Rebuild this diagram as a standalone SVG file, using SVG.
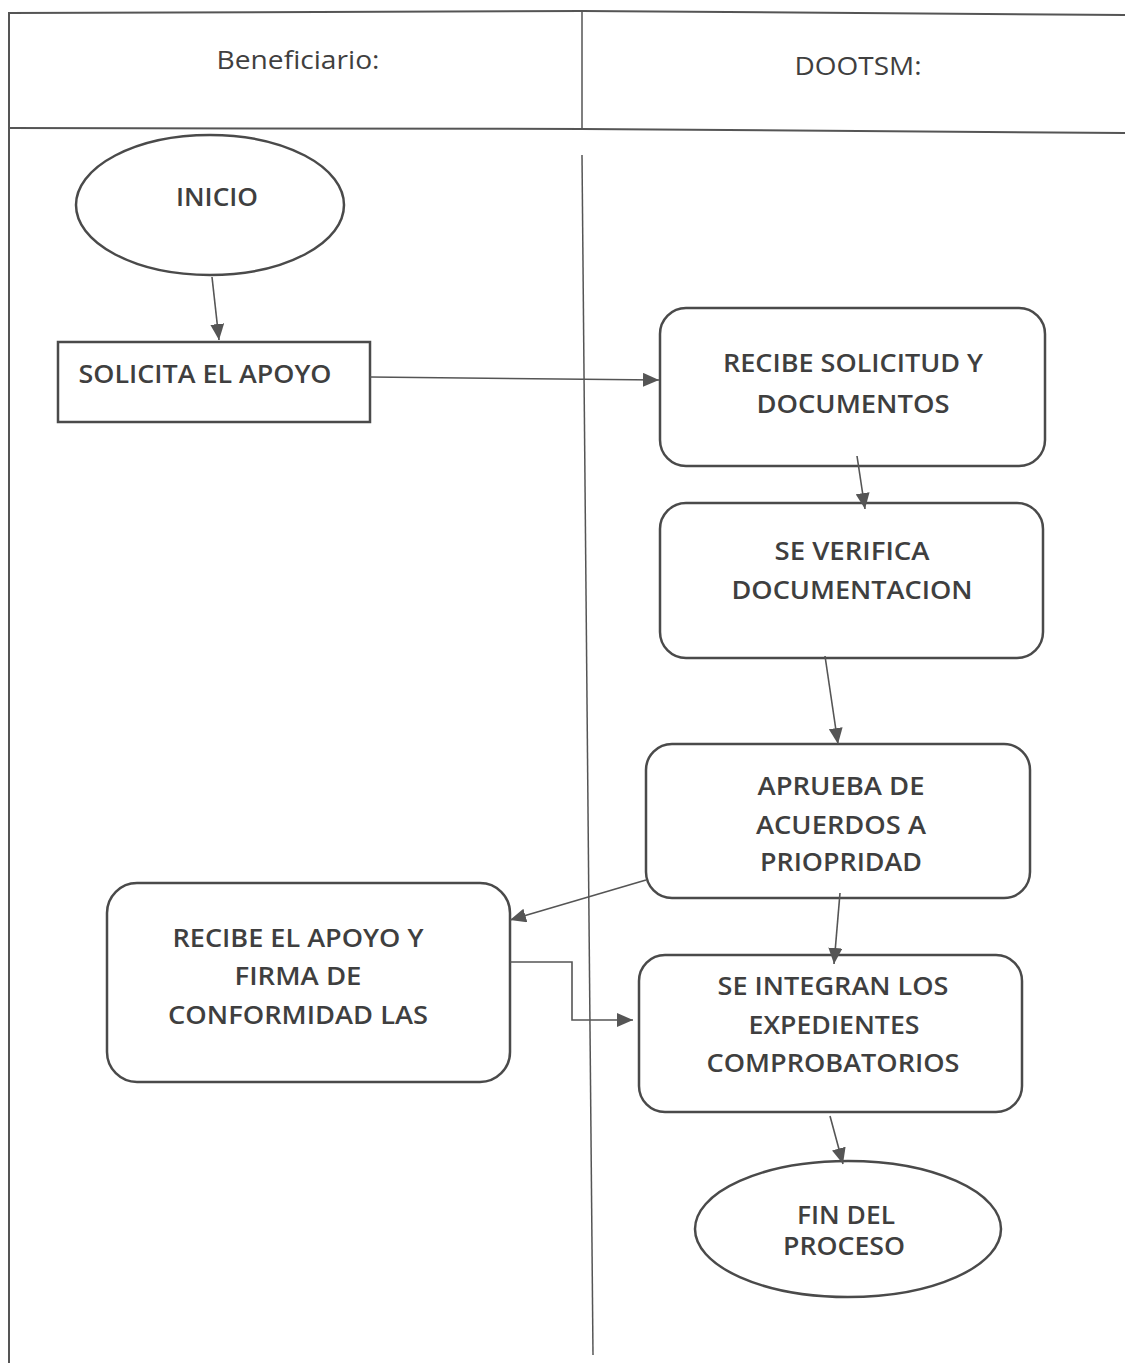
<svg xmlns="http://www.w3.org/2000/svg" width="1125" height="1363" viewBox="0 0 1125 1363">
<style>
.frame{fill:none;stroke:#555;stroke-width:2}
.thin{fill:none;stroke:#555;stroke-width:1.5}
.shape{fill:#fff;stroke:#4a4a4a;stroke-width:2.5}
.lbl{font-family:"Open Sans","Liberation Sans",sans-serif;font-weight:600;font-size:25px;fill:#3f3f3f;text-anchor:middle}
.hdr{font-family:"Open Sans","Liberation Sans",sans-serif;font-weight:500;font-size:26px;fill:#3f3f3f;text-anchor:middle}
.conn{fill:none;stroke:#555;stroke-width:1.6}
</style>
<defs>
<marker id="ah" markerUnits="userSpaceOnUse" markerWidth="18" markerHeight="14" refX="16" refY="7" orient="auto">
<path d="M0,0 L16,7 L0,14 Z" fill="#555"/>
</marker>
</defs>
<rect width="1125" height="1363" fill="#fff"/>
<g id="lanes">
<path class="frame" d="M9,1363 L9,13 L582,11 L1125,15"/>
<path class="frame" d="M9,128 L582,129 L1125,133"/>
<path class="thin" d="M582,11 L582,129"/>
<path class="thin" d="M582,155 L593,1355"/>
<text class="hdr" x="298" y="69" textLength="163" lengthAdjust="spacingAndGlyphs">Beneficiario:</text>
<text class="hdr" x="858" y="75" textLength="127" lengthAdjust="spacingAndGlyphs">DOOTSM:</text>
</g>
<g id="inicio">
<ellipse class="shape" cx="210" cy="205" rx="134" ry="70"/>
<text class="lbl" x="217" y="206" textLength="82" lengthAdjust="spacingAndGlyphs">INICIO</text>
</g>
<g id="solicita">
<rect class="shape" x="58" y="342" width="312" height="80"/>
<text class="lbl" x="205" y="383" textLength="253" lengthAdjust="spacingAndGlyphs">SOLICITA EL APOYO</text>
</g>
<g id="recibe-solicitud">
<rect class="shape" x="660" y="308" width="385" height="158" rx="26"/>
<text class="lbl" x="853" y="372" textLength="260" lengthAdjust="spacingAndGlyphs">RECIBE SOLICITUD Y</text>
<text class="lbl" x="853" y="413" textLength="193" lengthAdjust="spacingAndGlyphs">DOCUMENTOS</text>
</g>
<g id="verifica">
<rect class="shape" x="660" y="503" width="383" height="155" rx="26"/>
<text class="lbl" x="852" y="560" textLength="155" lengthAdjust="spacingAndGlyphs">SE VERIFICA</text>
<text class="lbl" x="852" y="599" textLength="241" lengthAdjust="spacingAndGlyphs">DOCUMENTACION</text>
</g>
<g id="aprueba">
<rect class="shape" x="646" y="744" width="384" height="154" rx="26"/>
<text class="lbl" x="841" y="795" textLength="167" lengthAdjust="spacingAndGlyphs">APRUEBA DE</text>
<text class="lbl" x="841" y="834" textLength="170" lengthAdjust="spacingAndGlyphs">ACUERDOS A</text>
<text class="lbl" x="841" y="871" textLength="162" lengthAdjust="spacingAndGlyphs">PRIOPRIDAD</text>
</g>
<g id="recibe-apoyo">
<rect class="shape" x="107" y="883" width="403" height="199" rx="30"/>
<text class="lbl" x="298" y="947" textLength="251" lengthAdjust="spacingAndGlyphs">RECIBE EL APOYO Y</text>
<text class="lbl" x="298" y="985" textLength="127" lengthAdjust="spacingAndGlyphs">FIRMA DE</text>
<text class="lbl" x="298" y="1024" textLength="260" lengthAdjust="spacingAndGlyphs">CONFORMIDAD LAS</text>
</g>
<g id="integran">
<rect class="shape" x="639" y="955" width="383" height="157" rx="26"/>
<text class="lbl" x="833" y="995" textLength="231" lengthAdjust="spacingAndGlyphs">SE INTEGRAN LOS</text>
<text class="lbl" x="834" y="1034" textLength="171" lengthAdjust="spacingAndGlyphs">EXPEDIENTES</text>
<text class="lbl" x="833" y="1072" textLength="253" lengthAdjust="spacingAndGlyphs">COMPROBATORIOS</text>
</g>
<g id="fin">
<ellipse class="shape" cx="848" cy="1229" rx="153" ry="68"/>
<text class="lbl" x="846" y="1224" textLength="98" lengthAdjust="spacingAndGlyphs">FIN DEL</text>
<text class="lbl" x="844" y="1255" textLength="122" lengthAdjust="spacingAndGlyphs">PROCESO</text>
</g>
<g id="connectors">
<path class="conn" d="M212,277 L219,340" marker-end="url(#ah)"/>
<path class="conn" d="M370,377 L659,380" marker-end="url(#ah)"/>
<path class="conn" d="M857,456 L865,509" marker-end="url(#ah)"/>
<path class="conn" d="M825,656 L838,744" marker-end="url(#ah)"/>
<path class="conn" d="M646,880 L510,920" marker-end="url(#ah)"/>
<path class="conn" d="M840,893 L834,964" marker-end="url(#ah)"/>
<path class="conn" d="M510,962 L572,962 L572,1020 L633,1020" marker-end="url(#ah)"/>
<path class="conn" d="M830,1116 L843,1164" marker-end="url(#ah)"/>
</g>
</svg>
